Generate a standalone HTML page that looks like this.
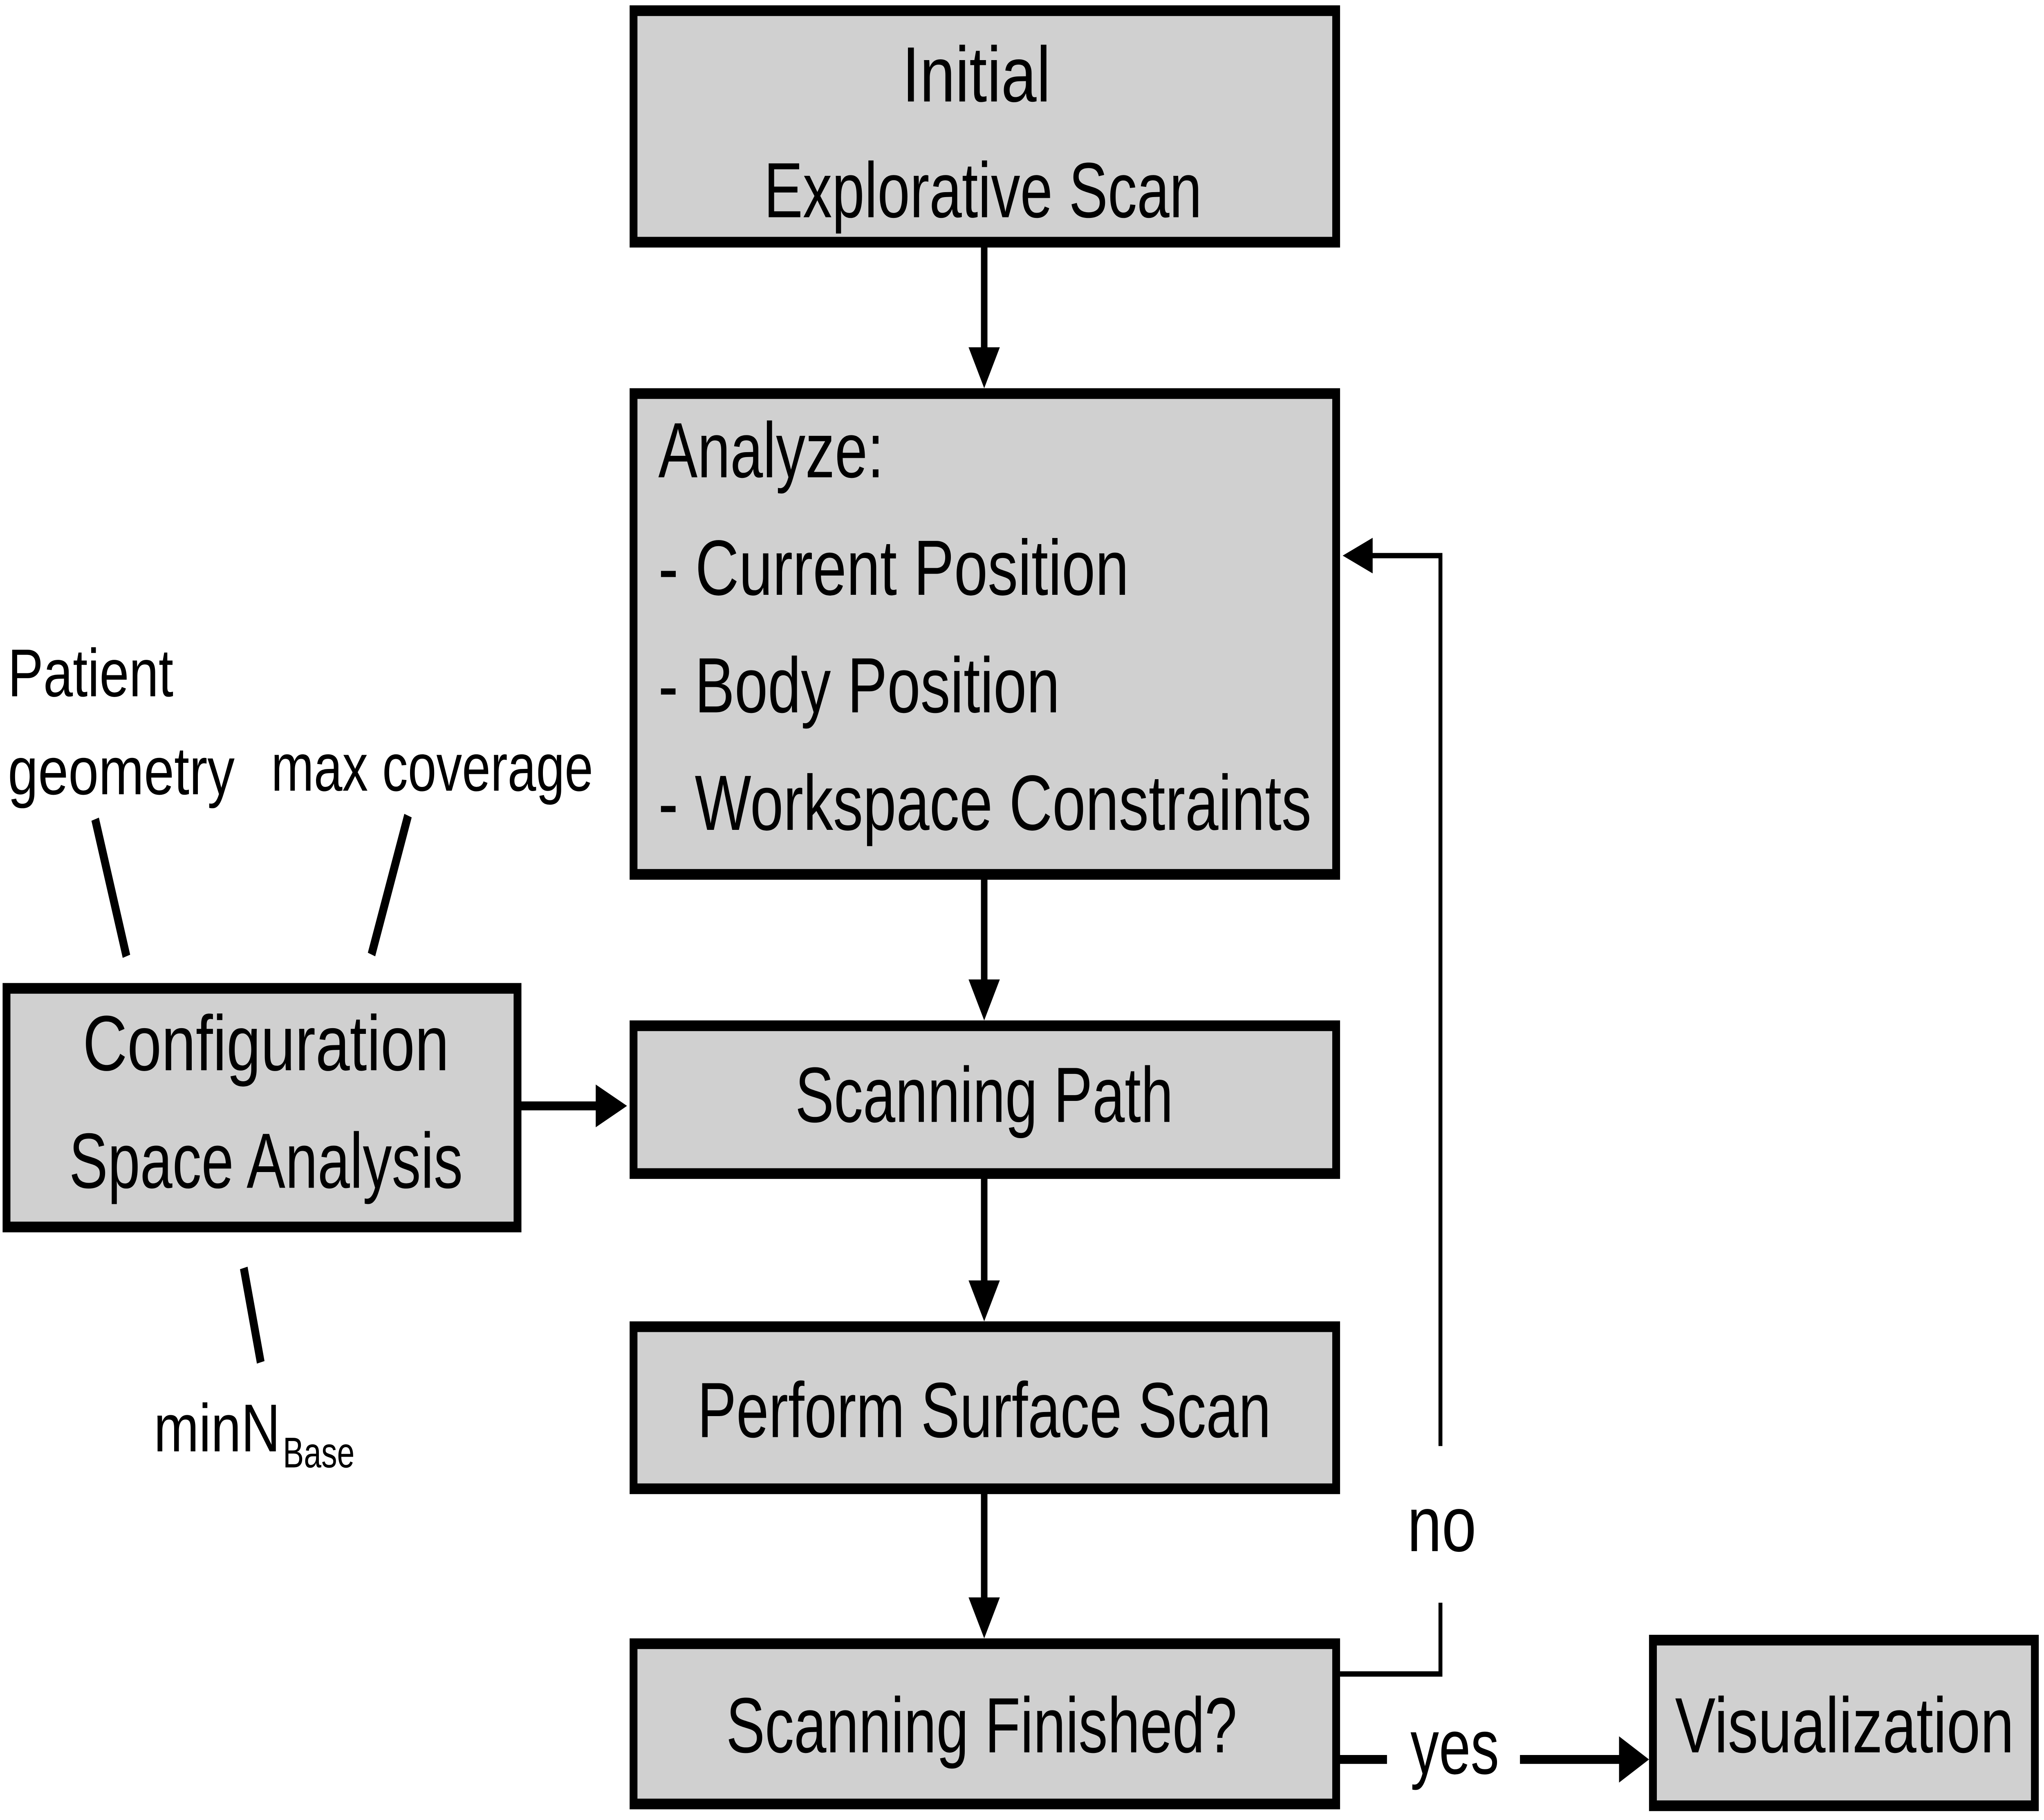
<!DOCTYPE html>
<html><head><meta charset="utf-8">
<style>
html,body{margin:0;padding:0;background:#fff;width:100%;height:100%;overflow:hidden;}
svg{display:block;position:fixed;left:0;top:0;width:100vw;height:100vh;}
text{font-family:"Liberation Sans",sans-serif;fill:#000;}
</style></head><body>
<svg viewBox="0 0 1568 1022" preserveAspectRatio="none" xmlns="http://www.w3.org/2000/svg">
<g fill="#d0d0d0" stroke="#000" stroke-width="6">
<rect x="486" y="6" width="539" height="130"/>
<rect x="486" y="221" width="539" height="270"/>
<rect x="486" y="576" width="539" height="83"/>
<rect x="486" y="745" width="539" height="91"/>
<rect x="486" y="923" width="539" height="90"/>
<rect x="1268" y="921" width="293" height="93"/>
<rect x="5" y="555" width="392" height="134"/>
</g>
<g stroke="#000" stroke-width="5" fill="#000">
<line x1="755" y1="138" x2="755" y2="196"/>
<path d="M743,195 L767,195 L755,218 z" stroke="none"/>
<line x1="755" y1="493" x2="755" y2="551"/>
<path d="M743,550 L767,550 L755,573 z" stroke="none"/>
<line x1="755" y1="661" x2="755" y2="720"/>
<path d="M743,719 L767,719 L755,742 z" stroke="none"/>
<line x1="755" y1="838" x2="755" y2="898"/>
<path d="M743,897 L767,897 L755,920 z" stroke="none"/>
<line x1="399" y1="621" x2="458" y2="621"/>
<path d="M457,609 L457,633 L481,621 z" stroke="none"/>
<line x1="1027" y1="988" x2="1064" y2="988"/>
<line x1="1166" y1="988" x2="1244" y2="988"/>
<path d="M1242,975 L1242,1001 L1265,988 z" stroke="none"/>
</g>
<g stroke="#000" stroke-width="3" fill="none">
<polyline points="1028,940 1105,940 1105,900"/>
<polyline points="1105,812 1105,312 1050,312"/>
</g>
<path d="M1053,302 L1053,322 L1030,312 z" fill="#000"/>
<g stroke="#000" stroke-width="6">
<line x1="73" y1="460" x2="97" y2="537"/>
<line x1="313" y1="458" x2="285" y2="536"/>
<line x1="187" y1="712" x2="200" y2="765"/>
</g>
<g font-size="44">
<text x="749" y="57" text-anchor="middle" textLength="114" lengthAdjust="spacingAndGlyphs">Initial</text>
<text x="754" y="122" text-anchor="middle" textLength="336" lengthAdjust="spacingAndGlyphs">Explorative Scan</text>
<text x="505" y="268" textLength="173" lengthAdjust="spacingAndGlyphs">Analyze:</text>
<text x="505" y="334" textLength="361" lengthAdjust="spacingAndGlyphs">- Current Position</text>
<text x="505" y="400" textLength="308" lengthAdjust="spacingAndGlyphs">- Body Position</text>
<text x="505" y="466" textLength="501" lengthAdjust="spacingAndGlyphs">- Workspace Constraints</text>
<text x="755" y="630" text-anchor="middle" textLength="290" lengthAdjust="spacingAndGlyphs">Scanning Path</text>
<text x="755" y="807" text-anchor="middle" textLength="440" lengthAdjust="spacingAndGlyphs">Perform Surface Scan</text>
<text x="753" y="984" text-anchor="middle" textLength="392" lengthAdjust="spacingAndGlyphs">Scanning Finished?</text>
<text x="1415" y="984" text-anchor="middle" textLength="260" lengthAdjust="spacingAndGlyphs">Visualization</text>
<text x="204" y="601" text-anchor="middle" textLength="281" lengthAdjust="spacingAndGlyphs">Configuration</text>
<text x="204" y="667" text-anchor="middle" textLength="302" lengthAdjust="spacingAndGlyphs">Space Analysis</text>
<text x="1106" y="871" text-anchor="middle" textLength="53" lengthAdjust="spacingAndGlyphs">no</text>
<text x="1116" y="996" text-anchor="middle" textLength="68" lengthAdjust="spacingAndGlyphs">yes</text>
</g>
<g font-size="38">
<text x="6" y="391" textLength="127" lengthAdjust="spacingAndGlyphs">Patient</text>
<text x="6" y="446" textLength="174" lengthAdjust="spacingAndGlyphs">geometry</text>
<text x="208" y="444" textLength="247" lengthAdjust="spacingAndGlyphs">max coverage</text>
<text x="118" y="815" textLength="97" lengthAdjust="spacingAndGlyphs">minN</text>
<text x="217" y="824" font-size="24" textLength="55" lengthAdjust="spacingAndGlyphs">Base</text>
</g>
</svg>
</body></html>
